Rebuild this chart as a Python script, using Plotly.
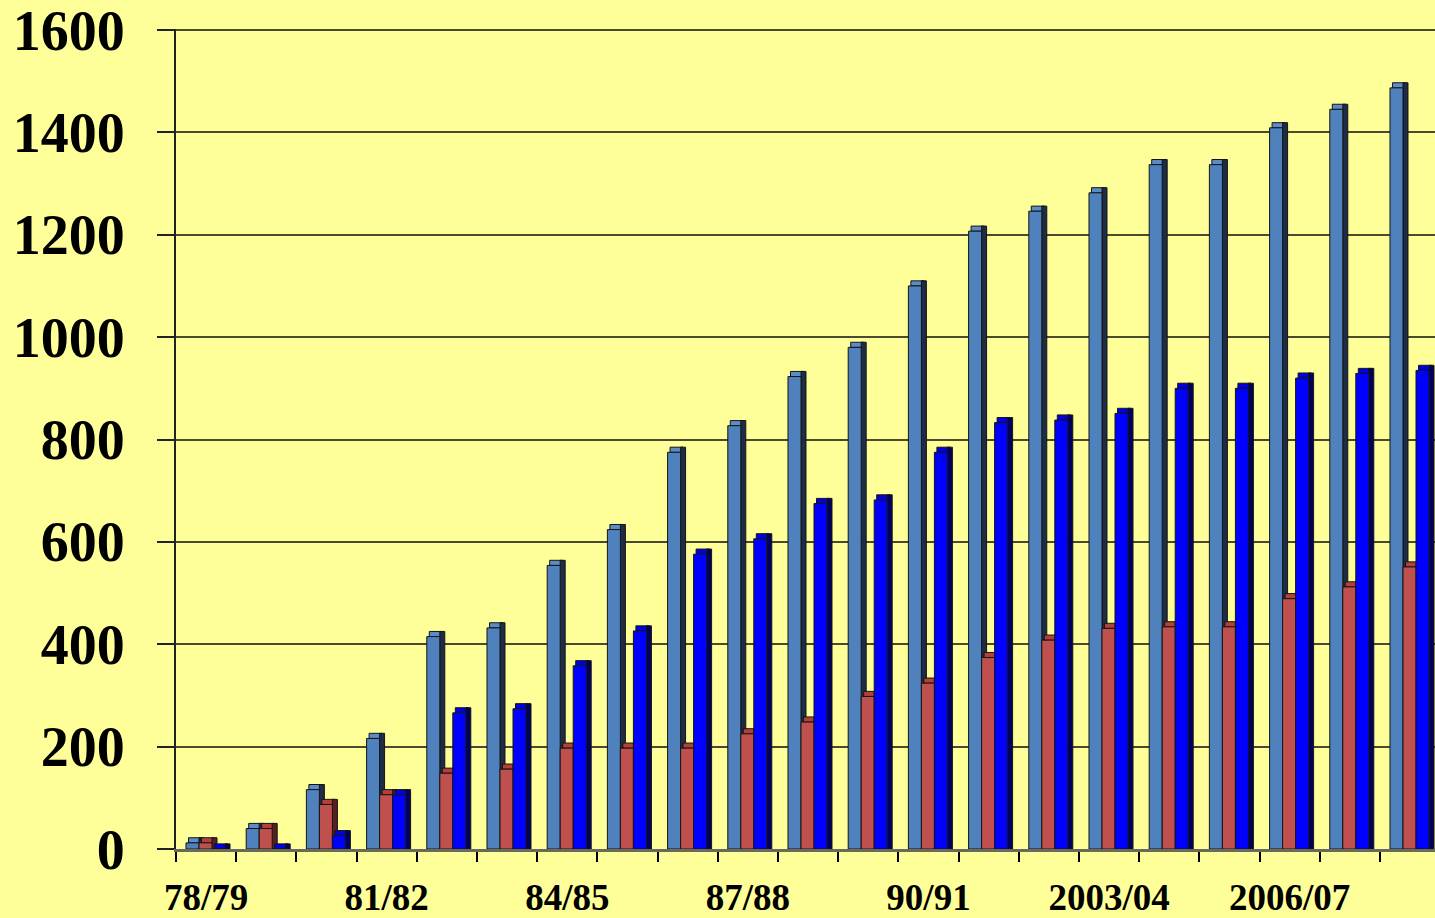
import plotly.graph_objects as go

categories = ["78/79", "79/80", "80/81", "81/82", "82/83", "83/84", "84/85",
              "85/86", "86/87", "87/88", "88/89", "89/90", "90/91", "2001/02",
              "2002/03", "2003/04", "2004/05", "2005/06", "2006/07", "2007/08",
              "2008/09"]
series_a = [12, 40, 116, 216, 415, 432, 554, 624, 775, 827, 923, 980, 1100,
            1207, 1246, 1282, 1337, 1337, 1409, 1445, 1487]
series_b = [12, 40, 87, 106, 148, 156, 197, 197, 197, 225, 248, 298, 324,
            374, 408, 431, 434, 434, 489, 512, 551]
series_c = [0, 0, 26, 106, 266, 274, 358, 426, 576, 606, 675, 682, 775,
            833, 838, 851, 900, 900, 920, 929, 935]
y_ticks = [0, 200, 400, 600, 800, 1000, 1200, 1400, 1600]

idx = list(range(len(categories)))

# styling of pseudo-3D columns
W = 0.216      # front face width (category units)
D = 0.083      # depth offset (category units)
DEP = 10       # depth offset (value units)
OUT = "#151515"

specs = [
    (series_a, -0.334, "#4F81BD", "#1E2D45", "#5B8CC8"),
    (series_b, -0.118, "#C0504D", "#5A1E1C", "#B2413E"),
    (series_c, 0.098, "#0000FF", "#000060", "#0000E0"),
]

fig = go.Figure()
for vals, off, front, side, top in specs:
    # top face
    fig.add_trace(go.Bar(
        x=idx, y=[DEP] * len(vals), base=vals, offset=off + D * 0.5, width=W,
        marker=dict(color=top, line=dict(color=OUT, width=1)),
        hoverinfo="skip", showlegend=False))
    # side face
    fig.add_trace(go.Bar(
        x=idx, y=[v + DEP for v in vals], offset=off + W, width=D,
        marker=dict(color=side, line=dict(color=OUT, width=1)),
        hoverinfo="skip", showlegend=False))
    # front face
    fig.add_trace(go.Bar(
        x=idx, y=vals, offset=off, width=W,
        marker=dict(color=front, line=dict(color=OUT, width=1)),
        showlegend=False))

n = len(categories)
fig.update_layout(
    width=1435, height=918,
    paper_bgcolor="#FFFF99", plot_bgcolor="#FFFF99",
    barmode="overlay",
    margin=dict(l=176, r=0, t=29, b=64),
    font=dict(family="Liberation Serif", color="black"),
    showlegend=False,
)
fig.update_xaxes(
    range=[-0.5, -0.5 + (1435 - 176) / 60.2],
    tickmode="array", tickvals=idx[::3], ticktext=categories[::3],
    ticks="outside", ticklen=0, ticklabelstandoff=14,
    ticklabeloverflow="allow",
    tickfont=dict(family="Liberation Serif", size=37, color="black", weight="bold"),
    showgrid=False, zeroline=False,
    showline=True, linecolor="#6a6a5a", linewidth=3,
    minor=dict(tickmode="array", tickvals=[i - 0.5 for i in idx] + [n - 0.5],
               ticks="outside", ticklen=10, tickwidth=2, tickcolor="black",
               showgrid=False),
)
fig.update_yaxes(
    range=[0, 1602], tickmode="array", tickvals=y_ticks,
    ticks="outside", ticklen=17, tickwidth=2, tickcolor="#222",
    ticklabelstandoff=21, ticklabeloverflow="allow",
    tickfont=dict(family="Liberation Serif", size=56, color="black", weight="bold"),
    showgrid=True, gridcolor="#4a4a30", gridwidth=2,
    zeroline=False, showline=True, linecolor="#222", linewidth=2,
)

fig.write_html(
    "out.html",
    config={"displayModeBar": False},
    post_script="document.body.style.margin='0';"
                "document.body.style.background='#FFFF99';",
)
